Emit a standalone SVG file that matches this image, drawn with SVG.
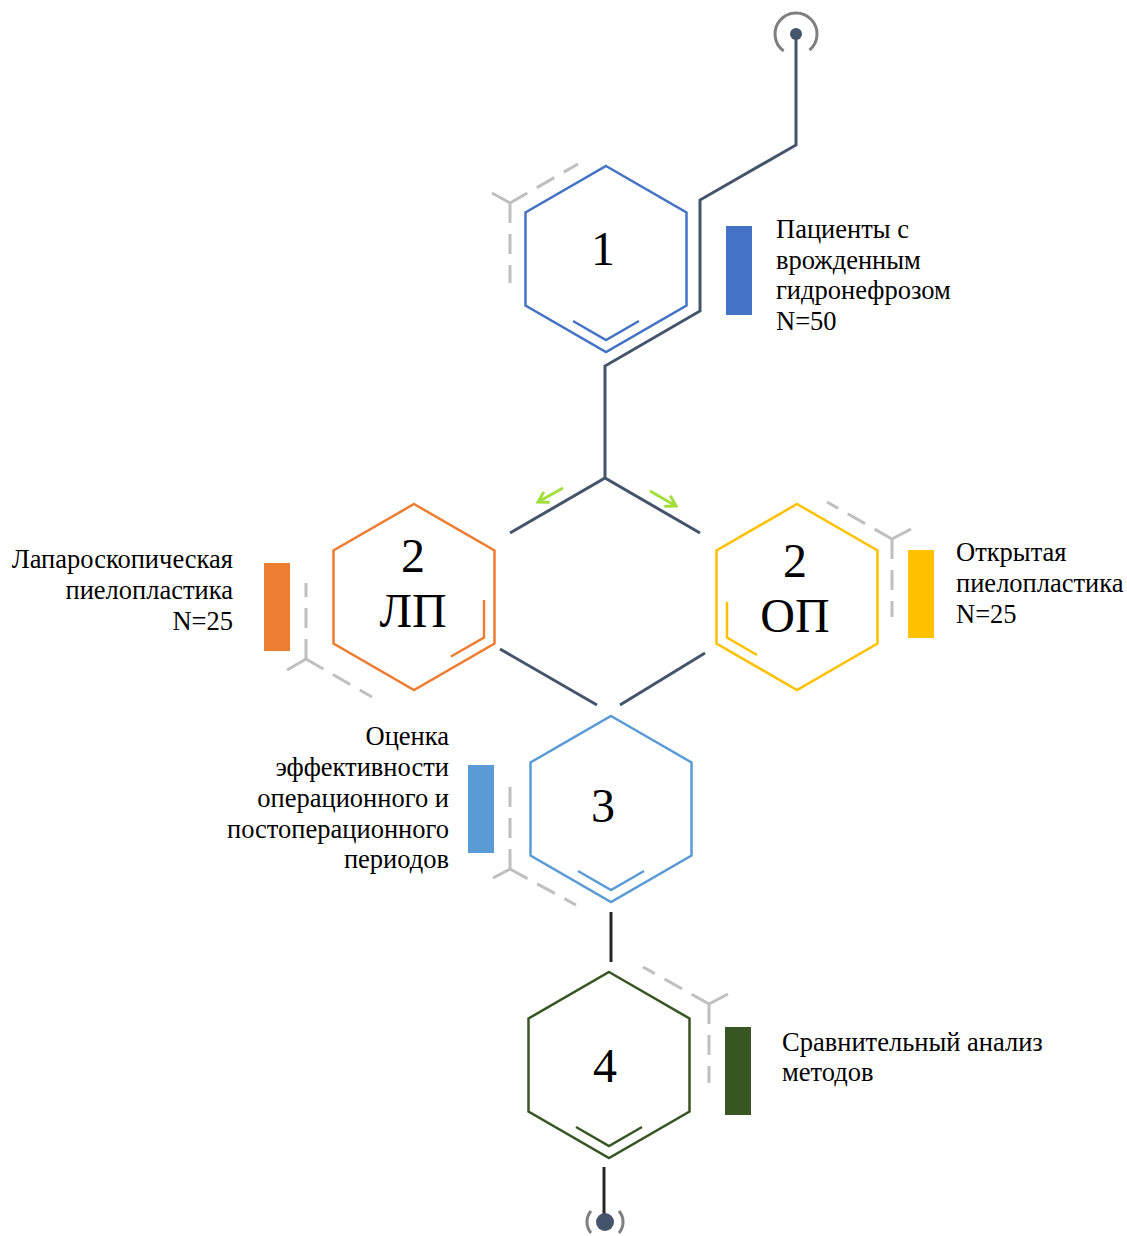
<svg xmlns="http://www.w3.org/2000/svg" width="1127" height="1236" viewBox="0 0 1127 1236">
<defs>
<style>
.hex{fill:none;stroke-width:2.5;stroke-linejoin:miter}
.conn{fill:none;stroke:#44546A;stroke-width:3}
.blk{fill:none;stroke:#262626;stroke-width:3}
.deco{fill:none;stroke:#BFBFBF;stroke-width:3}
.dash{stroke-dasharray:20 11}
.ring{fill:none;stroke:#7F7F7F;stroke-width:3}
.arr{fill:none;stroke:#A2DD3C;stroke-width:3}
.num{font-family:"Liberation Serif","Times New Roman",serif;font-size:48px;fill:#000;text-anchor:middle}
.lbl{font-family:"Liberation Serif","Times New Roman",serif;font-size:26.5px;fill:#000}
.end{text-anchor:end}
</style>
<marker id="chev" viewBox="0 0 16 16" refX="13" refY="8" markerWidth="16" markerHeight="16" markerUnits="userSpaceOnUse" orient="auto">
<path d="M3,2 L13,8 L3,14" fill="none" stroke="#A2DD3C" stroke-width="3"/>
</marker>
</defs>
<rect width="1127" height="1236" fill="#fff"/>

<g id="connectors">
<path class="ring" d="M783.7,51 A21,21 0 1 1 809.5,50.1"/>
<circle cx="796" cy="34" r="6" fill="#44546A"/>
<polyline class="conn" points="796,34 796,145 700,200 700,311 605,366 605,478"/>
<polyline class="conn" points="510,533 605,478 700,533"/>
<line class="arr" x1="563" y1="488" x2="538" y2="502" marker-end="url(#chev)"/>
<line class="arr" x1="650" y1="491" x2="676" y2="506" marker-end="url(#chev)"/>
<line class="conn" x1="500" y1="649" x2="597" y2="705"/>
<line class="conn" x1="705" y1="653" x2="620" y2="705"/>
<line class="blk" x1="611" y1="912" x2="611" y2="962"/>
<line class="blk" x1="604" y1="1167" x2="604" y2="1222"/>
<path class="ring" d="M591,1211 A17,17 0 0 0 591,1233"/>
<path class="ring" d="M619,1211 A17,17 0 0 1 619,1233"/>
<circle cx="605" cy="1222" r="9" fill="#44546A"/>
</g>

<g id="node1">
<polygon class="hex" stroke="#4472C4" points="606,166 686.5,212.5 686.5,305.5 606,352 525.5,305.5 525.5,212.5"/>
<polyline class="hex" stroke="#4472C4" points="573,321 606,340 639,321"/>
<text class="num" x="603" y="265">1</text>
<line class="deco" x1="510" y1="203" x2="492" y2="193"/>
<line class="deco dash" x1="510" y1="203" x2="578" y2="164"/>
<line class="deco dash" x1="510" y1="203" x2="510" y2="283"/>
<rect x="726" y="226" width="26" height="89" fill="#4472C4"/>
<text class="lbl" x="776" y="238">Пациенты с</text>
<text class="lbl" x="776" y="269">врожденным</text>
<text class="lbl" x="776" y="299">гидронефрозом</text>
<text class="lbl" x="776" y="330">N=50</text>
</g>

<g id="node2lp">
<polygon class="hex" stroke="#ED7D31" points="414,504 494.5,550.5 494.5,643.5 414,690 333.5,643.5 333.5,550.5"/>
<polyline class="hex" stroke="#ED7D31" points="484,600 484,637.5 451,656.5"/>
<text class="num" x="413" y="572">2</text>
<text class="num" x="413" y="627">ЛП</text>
<line class="deco" x1="306" y1="659" x2="287" y2="670"/>
<line class="deco dash" x1="306" y1="659" x2="306" y2="583"/>
<line class="deco dash" x1="306" y1="659" x2="372" y2="697"/>
<rect x="264" y="563" width="26" height="88" fill="#ED7D31"/>
<text class="lbl end" x="233" y="568">Лапароскопическая</text>
<text class="lbl end" x="233" y="599">пиелопластика</text>
<text class="lbl end" x="233" y="630">N=25</text>
</g>

<g id="node2op">
<polygon class="hex" stroke="#FFC000" points="797,504 877.5,550.5 877.5,643.5 797,690 716.5,643.5 716.5,550.5"/>
<polyline class="hex" stroke="#FFC000" points="727,602 727,637.5 757,655"/>
<text class="num" x="795" y="577">2</text>
<text class="num" x="795" y="632">ОП</text>
<line class="deco" x1="892" y1="539" x2="911" y2="529"/>
<line class="deco dash" x1="892" y1="539" x2="827" y2="502"/>
<line class="deco dash" x1="892" y1="539" x2="892" y2="617"/>
<rect x="908" y="550" width="26" height="88" fill="#FFC000"/>
<text class="lbl" x="956" y="561">Открытая</text>
<text class="lbl" x="956" y="592">пиелопластика</text>
<text class="lbl" x="956" y="623">N=25</text>
</g>

<g id="node3">
<polygon class="hex" stroke="#5B9BD5" points="611,716 691.5,762.5 691.5,855.5 611,902 530.5,855.5 530.5,762.5"/>
<polyline class="hex" stroke="#5B9BD5" points="578,871 611,890 644,871"/>
<text class="num" x="603" y="822">3</text>
<line class="deco" x1="510" y1="869" x2="493" y2="878"/>
<line class="deco dash" x1="510" y1="869" x2="510" y2="783"/>
<line class="deco dash" x1="510" y1="869" x2="576" y2="905"/>
<rect x="468" y="765" width="26" height="88" fill="#5B9BD5"/>
<text class="lbl end" x="449" y="745">Оценка</text>
<text class="lbl end" x="449" y="776">эффективности</text>
<text class="lbl end" x="449" y="807">операционного и</text>
<text class="lbl end" x="449" y="838">постоперационного</text>
<text class="lbl end" x="449" y="868">периодов</text>
</g>

<g id="node4">
<polygon class="hex" stroke="#375623" points="609,972 689.5,1018.5 689.5,1111.5 609,1158 528.5,1111.5 528.5,1018.5"/>
<polyline class="hex" stroke="#375623" points="576,1127 609,1146 642,1127"/>
<text class="num" x="605" y="1082">4</text>
<line class="deco" x1="709" y1="1004" x2="728" y2="994"/>
<line class="deco dash" x1="709" y1="1004" x2="643" y2="967"/>
<line class="deco dash" x1="709" y1="1004" x2="709" y2="1083"/>
<rect x="725" y="1027" width="26" height="88" fill="#375623"/>
<text class="lbl" x="782" y="1051">Сравнительный анализ</text>
<text class="lbl" x="782" y="1081">методов</text>
</g>
</svg>
